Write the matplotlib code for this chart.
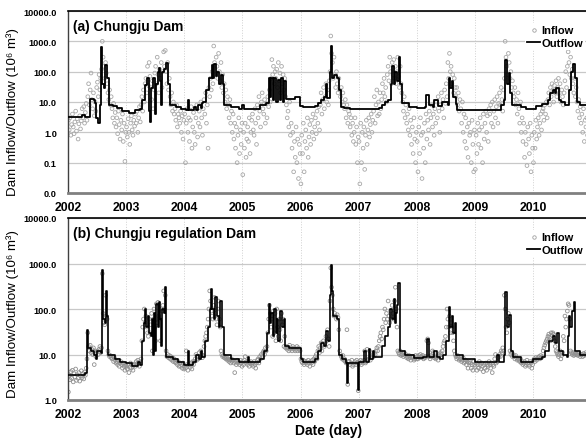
import numpy as np
import matplotlib
matplotlib.use("Agg")
import matplotlib.pyplot as plt
from matplotlib.ticker import FixedLocator, FuncFormatter, NullLocator
from matplotlib.lines import Line2D

plt.rcParams['font.family'] = ['Liberation Sans', 'DejaVu Sans']

years = [2002, 2003, 2004, 2005, 2006, 2007, 2008, 2009, 2010]
year_ticks = [2002, 2003, 2004, 2005, 2006, 2007, 2008, 2009, 2010]

# ---------------- Panel (a) Chungju Dam ----------------
# Inflow: 6 readings per month (about every 5 days)
inflow_a = {
    2002: [2.5, 1.2, 3.0, 0.8, 1.8, 4.0, 1.5, 0.9, 2.2, 5.0, 1.1, 2.8,
           0.6, 1.9, 3.5, 1.3, 2.4, 6.0, 3.0, 7.0, 2.0, 4.5, 9.0, 2.5,
           15, 40, 8.0, 25, 90, 12, 6.0, 20, 3.5, 10, 5.0, 30,
           45, 15, 80, 25, 60, 120, 1000, 300, 150, 60, 200, 90,
           40, 20, 12, 25, 8.0, 15, 6.0, 3.0, 9.0, 2.0, 4.5, 1.5,
           3.0, 0.9, 5.0, 1.8, 0.6, 2.5, 1.2, 4.0, 0.5, 2.0, 0.11, 1.0],
    2003: [1.5, 0.7, 2.8, 1.0, 0.4, 2.0, 3.5, 1.2, 0.8, 2.5, 1.6, 4.0,
           2.0, 5.0, 1.0, 3.0, 7.0, 2.2, 8.0, 15, 5.0, 25, 10, 40,
           60, 20, 150, 35, 200, 70, 30, 12, 50, 6.0, 25, 90,
           150, 40, 300, 80, 20, 120, 60, 200, 30, 100, 450, 150,
           500, 100, 40, 200, 25, 60, 15, 8.0, 20, 5.0, 10, 4.0,
           6.0, 2.5, 8.0, 1.5, 4.0, 3.0, 2.0, 5.0, 1.0, 3.5, 0.6, 2.5],
    2004: [4.0, 0.1, 2.0, 6.0, 1.0, 3.0, 0.5, 2.5, 7.0, 0.3, 1.5, 4.5,
           1.0, 0.4, 3.0, 8.0, 0.7, 2.0, 5.0, 1.5, 10, 3.0, 0.8, 6.0,
           12, 4.0, 20, 2.0, 8.0, 0.3, 30, 15, 60, 25, 100, 40,
           700, 200, 80, 300, 150, 60, 400, 100, 50, 200, 30, 80,
           20, 40, 10, 25, 6.0, 15, 8.0, 3.0, 12, 2.0, 5.0, 1.0,
           4.0, 0.6, 2.0, 0.3, 1.5, 0.1, 0.8, 3.0, 0.2, 1.2, 0.4, 2.0],
    2005: [0.04, 1.0, 0.3, 2.0, 0.15, 0.6, 1.5, 0.5, 3.0, 0.2, 1.0, 2.5,
           4.0, 1.2, 0.8, 6.0, 2.0, 0.4, 8.0, 3.0, 15, 5.0, 1.5, 10,
           20, 6.0, 4.0, 12, 2.0, 9.0, 3.0, 15, 7.0, 25, 10, 60,
           250, 80, 150, 40, 100, 60, 120, 30, 200, 50, 90, 20,
           150, 40, 80, 25, 60, 15, 8.0, 3.0, 5.0, 1.5, 10, 0.8,
           2.0, 0.3, 1.0, 0.05, 0.5, 0.15, 1.5, 0.1, 0.6, 0.03, 0.4, 0.2],
    2006: [0.02, 0.8, 0.2, 2.0, 0.05, 0.5, 1.2, 0.3, 3.0, 0.15, 0.7, 1.8,
           0.4, 2.5, 1.0, 4.0, 0.6, 1.5, 3.0, 0.9, 5.0, 2.0, 7.0, 1.2,
           8.0, 20, 4.0, 12, 30, 6.0, 15, 40, 10, 25, 8.0, 50,
           100, 1500, 400, 200, 60, 300, 80, 30, 100, 40, 20, 60,
           25, 15, 30, 10, 20, 8.0, 6.0, 12, 3.0, 8.0, 2.0, 5.0,
           4.0, 1.5, 3.0, 0.8, 2.0, 0.5, 1.0, 3.0, 0.4, 1.5, 0.1, 0.7],
    2007: [0.5, 0.02, 2.0, 0.1, 1.0, 0.3, 1.5, 0.06, 0.8, 2.5, 0.4, 1.2,
           3.0, 0.7, 1.8, 4.0, 1.0, 2.5, 5.0, 15, 2.0, 8.0, 25, 3.5,
           10, 4.0, 20, 6.0, 12, 40, 20, 60, 15, 30, 10, 80,
           150, 50, 300, 100, 40, 200, 80, 250, 60, 150, 40, 100,
           300, 70, 30, 150, 40, 20, 10, 5.0, 15, 3.0, 8.0, 2.0,
           4.0, 1.2, 6.0, 0.8, 2.5, 0.4, 1.5, 0.2, 3.0, 0.6, 0.1, 1.0],
    2008: [0.5, 0.05, 1.5, 0.2, 3.0, 0.8, 0.03, 1.0, 0.3, 2.0, 0.1, 4.0,
           0.6, 2.5, 1.2, 5.0, 0.4, 3.0, 8.0, 1.5, 4.0, 0.8, 6.0, 2.0,
           10, 3.0, 15, 5.0, 1.0, 8.0, 20, 6.0, 12, 3.0, 25, 9.0,
           40, 15, 200, 60, 400, 100, 150, 40, 80, 20, 60, 30,
           15, 30, 8.0, 20, 5.0, 12, 6.0, 2.0, 10, 1.0, 4.0, 0.5,
           3.0, 0.3, 1.5, 0.15, 2.0, 0.8, 1.0, 0.1, 2.5, 0.4, 0.05, 1.2],
    2009: [0.06, 0.8, 0.2, 2.0, 0.4, 1.2, 3.0, 0.3, 1.5, 0.1, 4.0, 0.6,
           2.0, 5.0, 1.0, 3.5, 0.5, 6.0, 4.0, 8.0, 2.0, 10, 1.5, 5.0,
           12, 3.0, 7.0, 15, 2.0, 9.0, 20, 8.0, 30, 12, 5.0, 25,
           60, 1000, 300, 150, 80, 400, 200, 60, 100, 30, 50, 20,
           15, 30, 8.0, 12, 4.0, 20, 6.0, 2.0, 10, 1.0, 3.0, 0.5,
           2.0, 0.15, 1.0, 0.4, 0.08, 1.5, 0.6, 0.2, 2.0, 0.05, 0.8, 0.3],
    2010: [0.1, 1.0, 0.3, 2.5, 0.6, 1.5, 3.0, 0.8, 2.0, 4.0, 1.2, 5.0,
           6.0, 2.5, 8.0, 4.0, 10, 3.0, 12, 20, 8.0, 30, 15, 40,
           25, 10, 35, 20, 50, 15, 30, 60, 20, 40, 10, 25,
           15, 8.0, 20, 50, 100, 30, 150, 450, 200, 80, 300, 60,
           120, 40, 20, 60, 15, 30, 10, 5.0, 12, 3.0, 7.0, 2.0,
           4.0, 1.0, 6.0, 0.5, 2.5, 1.5, 3.0, 0.8, 2.0, 0.4, 1.2, 5.0],
}

# Outflow (step changes: date, value)
outflow_a_t = [2002.00, 2002.24, 2002.30, 2002.37, 2002.44, 2002.47, 2002.49, 2002.52, 2002.55, 2002.575,
               2002.59, 2002.62, 2002.645, 2002.665, 2002.70, 2002.78, 2002.85, 2002.93, 2003.05, 2003.15,
               2003.24, 2003.28, 2003.32, 2003.36, 2003.40, 2003.41, 2003.43, 2003.47, 2003.50, 2003.51,
               2003.54, 2003.56, 2003.58, 2003.60, 2003.62, 2003.66, 2003.69, 2003.72, 2003.75, 2003.85,
               2003.95, 2004.03, 2004.06, 2004.08, 2004.16, 2004.20, 2004.24, 2004.28, 2004.30, 2004.33,
               2004.38, 2004.43, 2004.47, 2004.49, 2004.52, 2004.54, 2004.57, 2004.60, 2004.63, 2004.66,
               2004.69, 2004.80, 2004.95, 2005.00, 2005.02, 2005.30, 2005.40, 2005.45, 2005.48, 2005.50,
               2005.52, 2005.55, 2005.58, 2005.61, 2005.64, 2005.67, 2005.70, 2005.72, 2005.75, 2005.90,
               2005.99, 2006.05, 2006.25, 2006.30, 2006.36, 2006.40, 2006.43, 2006.46, 2006.50, 2006.52,
               2006.535, 2006.55, 2006.58, 2006.62, 2006.66, 2006.69, 2006.75, 2006.85, 2007.35, 2007.40,
               2007.45, 2007.50, 2007.55, 2007.58, 2007.60, 2007.63, 2007.66, 2007.69, 2007.72, 2007.75,
               2007.86, 2008.00, 2008.15, 2008.16, 2008.21, 2008.28, 2008.30, 2008.36, 2008.44, 2008.53,
               2008.56, 2008.58, 2008.60, 2008.63, 2008.67, 2008.70, 2009.40, 2009.45, 2009.50, 2009.52,
               2009.55, 2009.58, 2009.61, 2009.64, 2009.80, 2009.88, 2010.05, 2010.15, 2010.25, 2010.30,
               2010.35, 2010.38, 2010.40, 2010.44, 2010.48, 2010.55, 2010.62, 2010.66, 2010.69, 2010.72,
               2010.76, 2010.80, 2010.95]
outflow_a_v = [3.3, 3.6, 3.2, 13, 12, 9, 3.0, 2.0, 8, 650,
               40, 30, 170, 60, 8, 7.5, 6.5, 5.0, 4.5, 5.5,
               6, 12, 35, 60, 5, 2.2, 30, 60, 4, 40,
               100, 130, 50, 8, 100, 120, 200, 40, 8, 7,
               6, 5.5, 12, 5.5, 7, 5.5, 8, 6.5, 9, 10,
               25, 60, 170, 60, 180, 70, 100, 40, 80, 40,
               8, 7, 6, 8, 6, 8, 9, 60, 15, 60,
               12, 60, 10, 55, 12, 60, 10, 50, 13, 15,
               7.5, 7, 7.5, 9, 12, 15, 40, 14, 100, 700,
               150, 60, 80, 60, 25, 7, 6.5, 6, 6.5, 8,
               10, 12, 40, 150, 40, 100, 50, 300, 40, 9,
               7, 6.5, 7, 17, 8, 7, 12, 7.5, 10, 8,
               60, 30, 50, 15, 8.5, 5.5, 5.5, 8, 12, 250,
               40, 90, 20, 8, 7, 6, 7.5, 8.5, 12, 20,
               25, 20, 30, 12, 10, 8, 25, 100, 180, 60,
               10, 8, 8]

# ---------------- Panel (b) Chungju regulation Dam ----------------
inflow_b = {
    2002: [1.5, 3.5, 2.8, 4.2, 3.0, 4.5, 2.5, 3.8, 3.2, 4.8, 2.7, 3.6,
           3.0, 4.0, 2.6, 3.4, 4.4, 3.1, 3.8, 2.9, 4.1, 3.5, 5.0, 8.0,
           30, 15, 12, 16, 11, 13, 10, 14, 6.0, 12, 9.0, 11,
           12, 10, 13, 15, 11, 14, 600, 80, 50, 45, 200, 70,
           60, 12, 10, 9.0, 9.5, 8.5, 8.0, 9.0, 7.0, 8.5, 7.5, 6.5,
           7.0, 6.0, 7.5, 5.5, 6.5, 7.0, 6.0, 5.0, 6.5, 5.5, 4.5, 6.0],
    2003: [5.5, 4.8, 6.0, 4.0, 5.2, 6.5, 5.0, 6.0, 4.5, 5.8, 6.2, 5.5,
           7.0, 6.0, 7.5, 6.5, 5.5, 7.0, 8.0, 20, 40, 60, 100, 50,
           70, 40, 30, 25, 60, 30, 45, 80, 12, 60, 100, 40,
           20, 130, 50, 140, 70, 60, 20, 100, 90, 120, 250, 100,
           200, 12, 9.0, 10, 8.5, 9.5, 8.0, 9.0, 7.5, 8.5, 7.0, 8.0,
           7.0, 6.5, 7.5, 6.0, 7.0, 5.5, 6.5, 5.5, 6.0, 5.0, 6.5, 4.8],
    2004: [5.5, 5.0, 12, 6.0, 4.5, 5.8, 6.0, 5.2, 6.5, 4.8, 7.0, 6.0,
           7.0, 8.0, 10, 7.5, 9.0, 8.0, 11, 9.0, 12, 10, 8.5, 9.5,
           15, 20, 25, 30, 40, 60, 100, 250, 150, 90, 70, 60,
           120, 180, 80, 60, 45, 100, 150, 60, 40, 12, 10, 9.0,
           9.5, 8.5, 9.0, 8.0, 8.5, 7.5, 8.0, 7.0, 7.5, 6.5, 8.0, 7.0,
           7.5, 6.5, 4.0, 7.0, 6.0, 7.5, 6.5, 7.0, 6.0, 7.5, 6.5, 5.5],
    2005: [7.0, 6.0, 7.5, 9.0, 6.5, 7.0, 6.0, 7.0, 5.5, 6.5, 7.0, 6.0,
           6.5, 5.5, 7.0, 6.0, 5.0, 6.5, 7.5, 8.0, 6.5, 9.0, 8.0, 10,
           9.0, 11, 12, 10, 14, 12, 15, 30, 60, 120, 80, 40,
           60, 25, 90, 30, 80, 20, 100, 40, 25, 60, 35, 20,
           80, 45, 60, 15, 25, 14, 15, 13, 14, 12, 16, 13,
           14, 12, 15, 13, 14, 12, 13, 15, 12, 14, 13, 12],
    2006: [8.0, 7.0, 6.5, 7.5, 6.0, 7.0, 6.5, 7.0, 6.0, 7.5, 6.5, 5.5,
           7.0, 6.5, 7.5, 6.0, 8.0, 7.0, 9.0, 10, 8.0, 12, 15, 11,
           14, 18, 12, 16, 20, 15, 18, 25, 20, 35, 22, 15,
           150, 800, 300, 200, 100, 70, 80, 70, 60, 75, 65, 35,
           12, 10, 9.0, 8.0, 9.5, 7.5, 8.0, 7.0, 6.5, 35, 2.2, 7.0,
           7.0, 6.0, 6.5, 7.5, 5.5, 6.0, 6.5, 7.0, 6.0, 7.5, 6.5, 1.6],
    2007: [7.0, 6.5, 7.5, 6.0, 7.0, 6.5, 7.5, 12, 6.5, 7.0, 13, 7.5,
           8.0, 12, 7.5, 9.0, 8.5, 10, 9.0, 11, 10, 12, 14, 12,
           15, 20, 25, 30, 22, 40, 35, 60, 100, 50, 80, 60,
           150, 70, 50, 90, 60, 120, 80, 60, 150, 300, 100, 40,
           12, 11, 10, 12, 9.5, 10, 10, 9.0, 11, 9.5, 10, 8.5,
           9.0, 8.0, 9.5, 8.5, 7.5, 9.0, 8.5, 9.0, 7.5, 8.0, 9.5, 8.0],
    2008: [9.0, 8.0, 9.5, 8.5, 10, 9.0, 8.5, 9.5, 8.0, 9.0, 8.5, 9.0,
           20, 22, 18, 9.0, 8.0, 9.5, 9.0, 12, 11, 8.5, 9.0, 8.0,
           8.5, 9.0, 7.5, 10, 9.5, 11, 10, 12, 15, 18, 20, 25,
           40, 100, 60, 40, 70, 30, 50, 40, 30, 20, 12, 10,
           9.0, 8.0, 9.5, 8.5, 7.5, 8.0, 8.0, 7.0, 7.5, 8.5, 6.5, 7.0,
           7.5, 6.0, 7.0, 5.0, 6.5, 7.0, 6.5, 5.0, 6.0, 4.5, 7.0, 6.0],
    2009: [5.5, 6.5, 4.5, 6.0, 5.0, 7.0, 6.0, 4.8, 6.5, 5.5, 4.2, 6.0,
           5.0, 6.5, 4.5, 6.0, 5.5, 7.0, 6.0, 5.0, 6.5, 4.0, 6.0, 5.5,
           8.0, 10, 6.5, 7.0, 8.5, 9.0, 10, 9.0, 12, 11, 14, 12,
           200, 100, 40, 30, 60, 80, 50, 12, 10, 11, 9.0, 10,
           9.0, 8.0, 9.5, 8.5, 7.5, 8.0, 7.5, 7.0, 8.0, 6.5, 7.0, 6.0,
           6.5, 7.0, 5.5, 6.0, 7.5, 6.5, 6.0, 5.5, 7.0, 6.5, 5.0, 6.0],
    2010: [7.5, 8.0, 7.0, 8.5, 7.5, 8.0, 8.5, 9.0, 8.0, 9.5, 8.5, 9.0,
           12, 14, 16, 18, 20, 22, 25, 28, 24, 20, 30, 26,
           30, 28, 20, 15, 12, 11, 10, 9.0, 10, 12, 8.0, 9.5,
           11, 25, 20, 70, 40, 60, 90, 130, 120, 60, 12, 11,
           10, 11, 9.5, 10, 11, 10, 10, 9.5, 11, 10, 9.0, 10,
           10, 9.0, 10.5, 9.5, 10, 11, 10, 9.5, 10, 10.5, 9.0, 10],
}

outflow_b_t = [2002.00, 2002.30, 2002.32, 2002.34, 2002.40, 2002.45, 2002.48, 2002.50, 2002.57, 2002.585,
               2002.60, 2002.63, 2002.655, 2002.67, 2002.69, 2002.80, 2002.90, 2003.00, 2003.10, 2003.20,
               2003.24, 2003.27, 2003.30, 2003.32, 2003.35, 2003.37, 2003.40, 2003.42, 2003.45, 2003.47,
               2003.48, 2003.50, 2003.52, 2003.54, 2003.56, 2003.58, 2003.60, 2003.62, 2003.65, 2003.67,
               2003.69, 2003.80, 2003.90, 2004.00, 2004.06, 2004.08, 2004.15, 2004.20, 2004.25, 2004.28,
               2004.31, 2004.35, 2004.40, 2004.44, 2004.46, 2004.48, 2004.51, 2004.53, 2004.56, 2004.59,
               2004.62, 2004.65, 2004.68, 2004.80, 2004.95, 2005.10, 2005.12, 2005.30, 2005.38, 2005.43,
               2005.46, 2005.48, 2005.50, 2005.52, 2005.55, 2005.57, 2005.60, 2005.62, 2005.65, 2005.68,
               2005.71, 2005.74, 2005.80, 2006.00, 2006.05, 2006.25, 2006.30, 2006.35, 2006.40, 2006.44,
               2006.47, 2006.50, 2006.52, 2006.54, 2006.56, 2006.62, 2006.66, 2006.72, 2006.79, 2006.80,
               2006.81, 2006.98, 2006.99, 2007.00, 2007.10, 2007.12, 2007.18, 2007.20, 2007.24, 2007.26,
               2007.40, 2007.45, 2007.50, 2007.54, 2007.57, 2007.60, 2007.62, 2007.64, 2007.66, 2007.68,
               2007.71, 2007.80, 2007.95, 2008.10, 2008.17, 2008.21, 2008.30, 2008.34, 2008.40, 2008.45,
               2008.50, 2008.55, 2008.57, 2008.60, 2008.62, 2008.65, 2008.68, 2008.80, 2009.00, 2009.35,
               2009.38, 2009.42, 2009.50, 2009.52, 2009.55, 2009.58, 2009.62, 2009.66, 2009.80, 2010.00,
               2010.15, 2010.20, 2010.28, 2010.34, 2010.38, 2010.41, 2010.45, 2010.52, 2010.58, 2010.60,
               2010.62, 2010.64, 2010.67, 2010.70, 2010.73, 2010.80, 2010.95]
outflow_b_v = [3.6, 4, 35, 14, 12, 10, 8, 12, 11, 730,
               60, 50, 250, 70, 10, 8, 7, 6.5, 5.5, 7,
               6, 20, 50, 100, 40, 70, 30, 25, 60, 10,
               80, 12, 130, 40, 140, 60, 15, 100, 80, 300,
               9, 8, 7, 6, 12, 6, 7, 10, 8, 12,
               9, 20, 40, 100, 280, 100, 60, 180, 70, 40,
               150, 40, 10, 8, 7, 9, 7, 8, 12, 30,
               130, 50, 80, 25, 100, 30, 60, 20, 90, 40,
               60, 15, 14, 8, 7, 8, 12, 18, 15, 33,
               20, 200, 930, 250, 70, 60, 10, 8, 6.5, 2.4,
               6.5, 6.5, 1.7, 7, 12, 7, 13, 8, 12, 9,
               15, 25, 40, 100, 60, 170, 50, 80, 120, 370,
               12, 10, 8.5, 9, 22, 9, 12, 9, 8, 10,
               20, 110, 40, 70, 30, 50, 10, 8, 7, 7,
               10, 7, 10, 240, 40, 75, 12, 9, 7, 8,
               9, 12, 20, 26, 18, 30, 12, 10, 9, 25,
               70, 40, 90, 145, 12, 10, 10]


def series_dates(d):
    t, v = [], []
    for y in years:
        vals = d[y]
        n = len(vals)
        t.extend(y + (np.arange(n) + 0.5) / n)
        v.extend(vals)
    return np.array(t), np.array(v)


W, H = 586, 439
fig = plt.figure(figsize=(W / 100, H / 100), dpi=100)

def box(l, t, r, b):
    return [l / W, 1 - b / H, (r - l) / W, (b - t) / H]

ax_a = fig.add_axes(box(68, 12, 590, 194))
ax_b = fig.add_axes(box(68, 219, 590, 401))

xmin, xmax = 2002.0, 2010.98

def style(ax, yticks, title, ylo, yhi, title_size, label_y):
    ax.set_yscale('log')
    ax.set_ylim(ylo, yhi)
    ax.set_xlim(xmin, xmax)
    ax.yaxis.set_major_locator(FixedLocator(yticks))
    ax.yaxis.set_minor_locator(NullLocator())
    ax.yaxis.set_major_formatter(FuncFormatter(lambda v, p: f"{v:.1f}"))
    ax.xaxis.set_major_locator(FixedLocator(year_ticks))
    ax.xaxis.set_major_formatter(FuncFormatter(lambda v, p: f"{int(round(v))}"))
    ax.grid(True, axis='y', color='#c8c8c8', lw=0.9, ls='-')
    ax.grid(True, axis='x', color='#d0d0d0', lw=0.7, ls=':')
    ax.set_axisbelow(True)
    ax.tick_params(axis='y', length=0, pad=8)
    ax.tick_params(axis='x', length=0, pad=6)
    for lab in ax.get_yticklabels():
        lab.set_fontsize(6.6)
        lab.set_fontweight('bold')
    for lab in ax.get_xticklabels():
        lab.set_fontsize(8.8)
        lab.set_fontweight('bold')
    ax.spines['right'].set_visible(False)
    ax.spines['top'].set_color('black')
    ax.spines['top'].set_linewidth(1.2)
    ax.spines['left'].set_color('#404040')
    ax.spines['left'].set_linewidth(1.0)
    ax.spines['bottom'].set_color('#808080')
    ax.spines['bottom'].set_linewidth(2.0)
    ax.text(0.009, 0.955, title, transform=ax.transAxes, ha='left', va='top',
            fontsize=title_size, fontweight='bold')
    ax.set_ylabel('Dam Inflow/Outflow (10\u2076 m\u00b3)', fontsize=9.6)
    ax.yaxis.set_label_coords(-0.094, label_y)
    handles = [Line2D([], [], ls='none', marker='o', ms=2.5, mfc='none', mec='#a0a0a0', mew=0.6),
               Line2D([], [], color='black', lw=1.3)]
    leg = ax.legend(handles, ['Inflow', 'Outflow'], loc='upper right', bbox_to_anchor=(0.995, 0.945),
                    frameon=True, fancybox=False, framealpha=1, edgecolor='white',
                    prop={'weight': 'bold', 'size': 8}, handlelength=1.2, handletextpad=0.1,
                    borderpad=0.2, labelspacing=0.25, borderaxespad=0.2)
    leg.get_frame().set_linewidth(0)


# Panel (a)
ta, va = series_dates(inflow_a)
ax_a.scatter(ta, va, s=7, facecolors='none', edgecolors='#a8a8a8', linewidths=0.6, zorder=2)
ax_a.step(outflow_a_t, outflow_a_v, where='post', color='black', lw=1.3, zorder=3)
style(ax_a, [0.01, 0.1, 1, 10, 100, 1000, 10000], '(a) Chungju Dam', 0.01, 10000, 9.9, 0.45)

# Panel (b)
tb, vb = series_dates(inflow_b)
ax_b.scatter(tb, vb, s=7, facecolors='none', edgecolors='#909090', linewidths=0.6, zorder=2)
ax_b.step(outflow_b_t, outflow_b_v, where='post', color='black', lw=1.2, zorder=3)
style(ax_b, [1, 10, 100, 1000, 10000], '(b) Chungju regulation Dam', 1, 10000, 10.0, 0.48)
ax_b.set_xlabel('Date (day)', fontsize=10, fontweight='bold', labelpad=2)

fig.savefig('out.png', dpi=100)
